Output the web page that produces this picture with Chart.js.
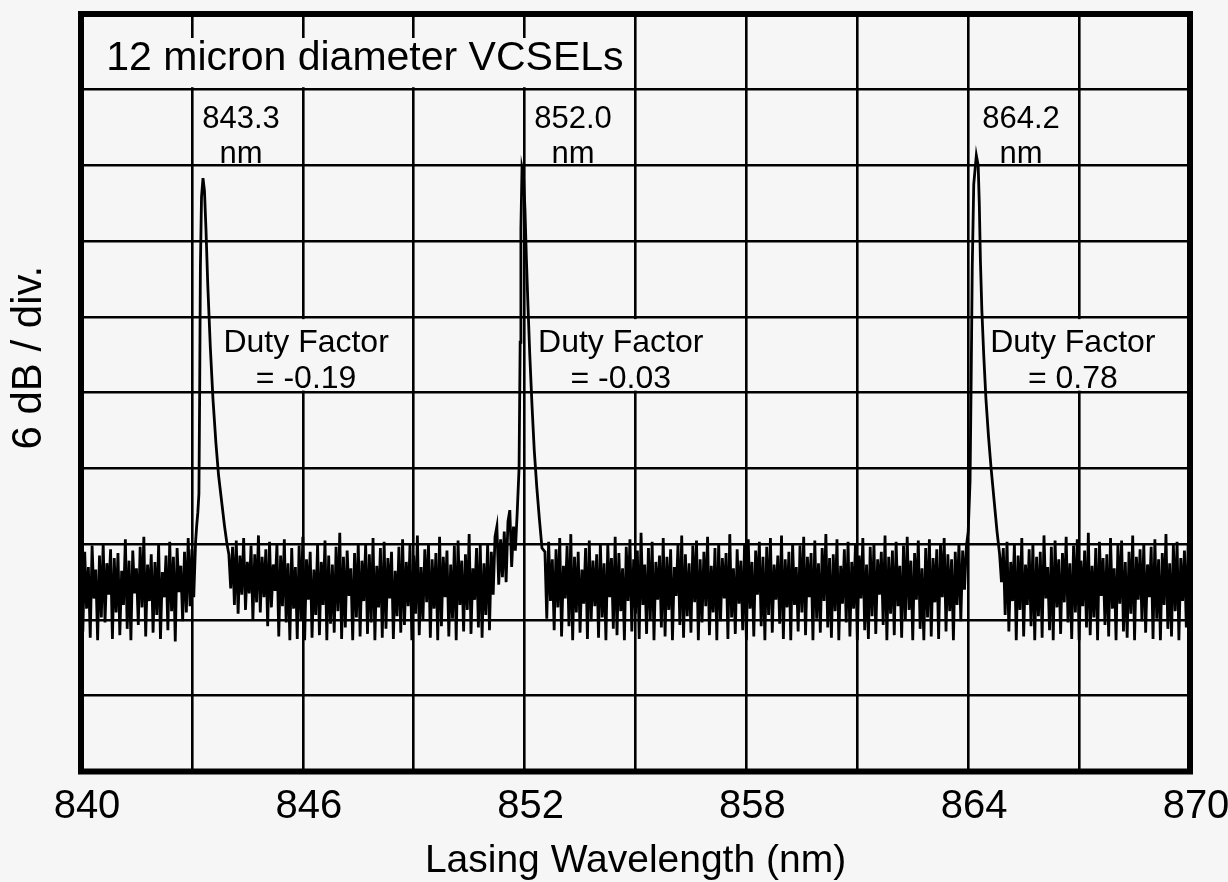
<!DOCTYPE html>
<html>
<head>
<meta charset="utf-8">
<script src="https://cdn.jsdelivr.net/npm/chart.js@4.4.0/dist/chart.umd.min.js"></script>
<style>
html,body{margin:0;padding:0;background:#f6f6f6;}
#wrap{width:1228px;height:882px;}
</style>
</head>
<body>
<div id="wrap"><canvas id="c" width="1228" height="882"></canvas></div>
<script>
// ---- axis ticks ----
const xTickLabels = ['840','','846','','852','','858','','864','','870'];
const xMin = 840, xMax = 870, xStep = 3;
const yMin = -60, yMax = 0, yStep = 6;   // 6 dB / div

// ---- noise floor segments (dB), sampled every 0.05 nm from the given start ----
const noiseStep = 0.05;
const noiseStarts = [840.00, 844.00, 852.55, 864.90];
const noiseA = [
 -43.2,-48.9,-42.6,-47.1,-43.8,-49.4,-42.1,-46.3,-44.0,-49.6,-42.9,-47.8,-41.9,-48.2,-43.5,-46.0,-42.4,-49.5,-43.1,-47.4,
 -42.7,-49.2,-44.1,-46.8,-41.6,-48.7,-43.3,-49.6,-42.5,-45.9,-43.9,-48.4,-42.2,-47.0,-41.4,-49.3,-43.6,-46.5,-42.8,-49.0,
 -43.4,-47.6,-42.0,-49.5,-44.2,-46.2,-42.9,-48.8,-41.8,-47.3,-43.0,-49.7,-42.3,-45.8,-43.7,-48.1,-42.6,-47.4,-41.5,-46.9,
 -42.4,-46.2,-41.8
];
const noiseB = [
 -42.8,-45.5,-42.2,-46.8,-41.7,-47.5,-42.9,-46.0,-41.5,-47.2,-43.4,-45.9,-42.1,-48.0,-42.8,-46.6,-41.3,-47.4,-43.0,-46.2,
 -42.4,-48.5,-41.8,-47.0,-43.6,-45.7,-42.0,-49.3,-42.9,-46.9,-41.6,-48.2,-43.5,-49.6,-42.3,-47.1,-43.8,-49.5,-42.1,-48.0,
 -41.4,-49.6,-43.2,-46.4,-42.6,-49.4,-44.0,-47.6,-42.0,-49.2,-43.4,-46.8,-41.7,-49.6,-42.9,-48.3,-43.6,-49.0,-42.2,-47.3,
 -41.1,-49.5,-43.0,-48.6,-42.5,-46.1,-43.9,-49.6,-42.7,-47.8,-41.9,-49.3,-43.3,-46.5,-42.0,-49.1,-42.8,-48.2,-41.5,-49.6,
 -43.7,-47.0,-42.3,-49.4,-41.8,-48.7,-43.1,-46.3,-42.6,-49.5,-44.1,-47.7,-42.2,-49.0,-41.6,-48.4,-43.4,-46.9,-42.0,-49.6,
 -42.9,-47.5,-41.3,-49.2,-43.8,-48.0,-42.4,-46.6,-41.9,-49.4,-43.2,-47.1,-42.7,-49.6,-41.4,-48.5,-43.0,-46.2,-42.5,-49.3,
 -43.6,-47.9,-42.1,-49.6,-41.7,-46.8,-43.3,-48.9,-42.8,-47.2,-41.2,-49.1,-43.9,-46.4,-42.3,-48.6,-42.0,-49.4,-43.5,-47.6,
 -41.9,-48.8,-42.6,-46.0,-41.4,-40.6,-45.2,-41.6,-44.6,-41.0,-45.0,-40.2,-39.3,-43.8,-40.6,-42.5
];
const noiseC = [
 -42.6,-47.9,-41.8,-46.5,-43.2,-48.8,-42.4,-47.0,-41.5,-49.3,-43.7,-46.3,-42.1,-48.5,-41.2,-49.6,-43.0,-47.4,-42.6,-49.0,
 -44.0,-46.7,-42.3,-49.5,-41.7,-48.1,-43.3,-46.9,-42.8,-49.4,-41.9,-47.8,-43.5,-49.6,-42.0,-46.2,-43.1,-48.7,-41.4,-49.2,
 -42.7,-47.3,-43.9,-49.6,-42.2,-46.5,-41.6,-48.9,-43.2,-47.5,-42.5,-49.5,-41.1,-46.8,-43.6,-49.1,-42.3,-48.0,-41.8,-49.6,
 -43.4,-46.4,-42.9,-48.6,-41.5,-49.3,-43.0,-47.2,-42.4,-49.6,-43.8,-46.1,-42.0,-48.4,-41.3,-49.4,-42.8,-47.7,-43.5,-49.0,
 -42.1,-46.6,-41.7,-49.6,-43.2,-48.2,-42.6,-46.9,-41.4,-49.2,-43.7,-47.4,-42.3,-49.6,-41.9,-48.1,-43.1,-46.3,-42.7,-49.5,
 -41.2,-47.8,-43.9,-49.1,-42.4,-46.7,-43.3,-48.8,-42.0,-49.6,-41.6,-47.1,-43.4,-49.3,-42.5,-46.0,-41.8,-48.5,-43.0,-49.6,
 -42.2,-47.6,-41.5,-49.0,-43.6,-46.4,-42.9,-48.3,-41.3,-49.5,-43.2,-47.0,-42.6,-49.6,-41.9,-46.8,-43.8,-48.9,-42.1,-47.4,
 -41.4,-49.2,-43.0,-46.2,-42.7,-49.6,-41.7,-47.9,-43.5,-49.0,-42.3,-46.5,-41.2,-48.6,-43.1,-49.4,-42.8,-47.3,-41.6,-49.6,
 -43.7,-46.7,-42.4,-48.2,-41.8,-49.3,-43.4,-47.1,-42.0,-49.6,-42.9,-46.3,-41.5,-48.8,-43.6,-49.5,-42.2,-47.7,-41.9,-49.1,
 -43.2,-46.0,-42.6,-48.4,-41.3,-49.6,-43.0,-47.5,-42.5,-49.2,-41.8,-46.9,-43.7,-49.4,-42.1,-48.0,-41.4,-47.2,-43.3,-49.6,
 -42.7,-46.4,-41.7,-48.7,-43.9,-49.6,-42.3,-47.8,-41.6,-49.3,-43.1,-46.6,-42.4,-49.5,-42.0,-46.2,-41.5,-48.9,-42.8,-47.3,
 -43.2,-49.6,-42.6,-46.8,-41.9,-48.1,-42.5,-45.6,-42.2
];
const noiseD = [
 -45.0,-42.3,-47.6,-41.8,-48.9,-43.4,-46.5,-42.0,-49.6,-42.9,-47.2,-41.5,-49.3,-43.6,-46.8,-42.4,-48.5,-41.9,-49.6,-43.0,
 -47.7,-42.6,-49.4,-41.3,-46.3,-43.8,-48.8,-42.2,-49.6,-41.7,-47.0,-43.2,-49.1,-42.7,-46.6,-41.4,-48.2,-43.5,-49.5,-42.1,
 -47.4,-41.6,-49.6,-43.3,-46.9,-42.5,-48.6,-41.1,-49.2,-43.7,-47.8,-42.3,-49.6,-41.8,-46.1,-43.1,-48.4,-42.8,-49.3,-41.5,
 -47.1,-43.9,-49.6,-42.0,-46.7,-41.7,-48.9,-43.4,-49.4,-42.6,-47.5,-41.3,-49.6,-43.0,-46.4,-42.4,-48.1,-41.9,-49.0,-43.6,
 -46.2,-42.2,-49.5,-41.6,-47.9,-43.2,-49.6,-42.7,-46.8,-41.2,-48.7,-43.5,-49.3,-42.0,-47.3,-41.8,-49.6,-43.1,-46.5,-42.5,
 -48.6,-41.9,-47.2
];

// ---- lasing peaks (wavelength nm, level dB) ----
const peak1Wl = [843.13,843.16,843.19,843.21,843.23,843.26,843.30,843.34,843.38,843.43,843.50,843.57,843.65,843.72,843.80,843.88,843.95];
const peak1Db = [-40.5,-39.5,-38.0,-30.0,-20.0,-14.5,-13.0,-14.0,-17.0,-21.5,-26.5,-30.5,-34.0,-36.5,-38.5,-40.5,-42.0];
const peak2Wl = [851.80,851.85,851.88,851.90,851.93,851.97,852.01,852.05,852.09,852.14,852.20,852.26,852.33,852.40,852.47];
const peak2Db = [-39.5,-36.0,-26.0,-17.0,-12.2,-12.8,-15.5,-19.5,-23.0,-27.0,-31.0,-34.5,-37.5,-40.0,-42.3];
const peak3Wl = [864.00,864.05,864.08,864.11,864.15,864.22,864.27,864.30,864.33,864.37,864.42,864.48,864.55,864.62,864.70,864.78,864.85];
const peak3Db = [-41.0,-37.0,-29.0,-20.0,-13.5,-11.2,-12.0,-15.0,-19.5,-23.5,-27.0,-30.5,-33.5,-36.0,-38.5,-41.0,-42.8];

// ---- text annotations ----
const titleText = '12 micron diameter VCSELs';
const peakLabels = [['843.3','nm'],['852.0','nm'],['864.2','nm']];
const dutyLabels = [['Duty Factor','= -0.19'],['Duty Factor','= -0.03'],['Duty Factor','= 0.78']];
const xTitle = 'Lasing Wavelength (nm)';
const yTitle = '6 dB / div.';

// ---- build the trace ----
function seg(start, vals){ return vals.map((v,i)=>({x: +(start + i*noiseStep).toFixed(2), y: v})); }
function pk(wl, db){ return wl.map((w,i)=>({x:w, y:db[i]})); }
const trace = [].concat(
  seg(noiseStarts[0], noiseA), pk(peak1Wl, peak1Db),
  seg(noiseStarts[1], noiseB), pk(peak2Wl, peak2Db),
  seg(noiseStarts[2], noiseC), pk(peak3Wl, peak3Db),
  seg(noiseStarts[3], noiseD)
);

const BG = '#f6f6f6';
const FONT = '"Liberation Sans", Arial, Helvetica, sans-serif';

// placement of annotations in data units
const layoutNotes = {
  title: {x: 847.68, y: -4.43, size: 41, box: {x0: 840, x1: 854.72, y0: -1.9, y1: -5.8}},
  peaks: [{x: 844.33, y: [-9.02, -11.79]}, {x: 853.31, y: [-9.02, -11.79]}, {x: 865.43, y: [-9.02, -11.79]}],
  peakSize: 31,
  duty: [{x: 846.09, box: [843.75, 848.40]}, {x: 854.60, box: [852.40, 856.90]}, {x: 866.83, box: [864.50, 869.20]}],
  dutyY: [-26.75, -29.6], dutyBox: [-24.17, -29.83], dutySize: 32
};

const overlay = {
  id: 'overlay',
  beforeDatasetsDraw(chart){
    const {ctx, scales:{x, y}} = chart;
    ctx.save();
    ctx.fillStyle = BG;
    const rect = (x0,x1,y0,y1)=>{
      const X0=x.getPixelForValue(x0), X1=x.getPixelForValue(x1);
      const Y0=y.getPixelForValue(y0), Y1=y.getPixelForValue(y1);
      ctx.fillRect(Math.min(X0,X1), Math.min(Y0,Y1), Math.abs(X1-X0), Math.abs(Y1-Y0));
    };
    const t = layoutNotes.title.box;
    rect(t.x0, t.x1, t.y0, t.y1);
    layoutNotes.duty.forEach(d=>rect(d.box[0], d.box[1], layoutNotes.dutyBox[0], layoutNotes.dutyBox[1]));
    ctx.restore();
  },
  afterDatasetsDraw(chart){
    const {ctx, scales:{x, y}, chartArea:a} = chart;
    ctx.save();
    ctx.fillStyle = '#000';
    ctx.textAlign = 'center';
    ctx.textBaseline = 'alphabetic';
    const T = layoutNotes.title;
    ctx.font = T.size + 'px ' + FONT;
    ctx.fillText(titleText, x.getPixelForValue(T.x), y.getPixelForValue(T.y));
    ctx.font = layoutNotes.peakSize + 'px ' + FONT;
    peakLabels.forEach((lines,i)=>{
      const p = layoutNotes.peaks[i];
      lines.forEach((s,j)=>ctx.fillText(s, x.getPixelForValue(p.x), y.getPixelForValue(p.y[j])));
    });
    ctx.font = layoutNotes.dutySize + 'px ' + FONT;
    dutyLabels.forEach((lines,i)=>{
      const d = layoutNotes.duty[i];
      lines.forEach((s,j)=>ctx.fillText(s, x.getPixelForValue(d.x), y.getPixelForValue(layoutNotes.dutyY[j])));
    });
    // frame
    ctx.strokeStyle = '#000';
    ctx.lineWidth = 6;
    ctx.strokeRect(a.left, a.top, a.right - a.left, a.bottom - a.top);
    ctx.restore();
  }
};

const bgPlugin = {
  id: 'bg',
  beforeDraw(chart){ const c = chart.ctx; c.save(); c.fillStyle = BG; c.fillRect(0,0,chart.width,chart.height); c.restore(); }
};

new Chart(document.getElementById('c'), {
  type: 'line',
  data: { datasets: [{
    data: trace, borderColor: '#000', borderWidth: 2.8, pointRadius: 0, tension: 0, fill: false
  }]},
  options: {
    responsive: false, animation: false, devicePixelRatio: 1,
    layout: { padding: { left: 0, right: 38, top: 14, bottom: 0 } },
    plugins: { legend: { display: false }, tooltip: { enabled: false } },
    scales: {
      x: {
        type: 'linear', min: xMin, max: xMax,
        grid: { color: '#000', lineWidth: 2.6, drawTicks: false, tickLength: 0 },
        border: { display: false },
        ticks: { stepSize: xStep, autoSkip: false, maxRotation: 0, padding: 4.6, labelOffset: 6,
          color: '#000', font: { family: FONT, size: 40, lineHeight: 1.52 },
          callback: (v, i) => xTickLabels[i] },
        title: { display: true, text: xTitle, color: '#000',
          font: { family: FONT, size: 39, lineHeight: 1.0 }, padding: { top: 0, bottom: 1.5 } }
      },
      y: {
        min: yMin, max: yMax,
        grid: { color: '#000', lineWidth: 2.6, drawTicks: false, tickLength: 0 },
        border: { display: false },
        ticks: { stepSize: yStep, display: false },
        title: { display: true, text: '      ' + yTitle, color: '#000',
          font: { family: FONT, size: 42 }, padding: { top: 4, bottom: 26.6 } }
      }
    }
  },
  plugins: [bgPlugin, overlay]
});
</script>
</body>
</html>
